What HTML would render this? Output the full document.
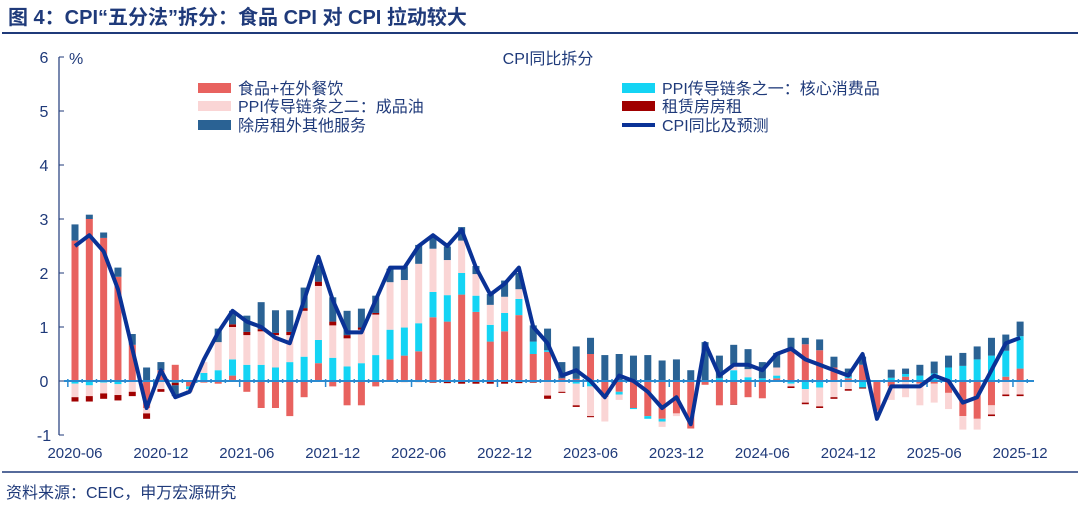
<!DOCTYPE html>
<html><head><meta charset="utf-8"><style>
body{margin:0;background:#fff;width:1080px;height:509px;overflow:hidden;font-family:"Liberation Sans","Noto Sans CJK SC",sans-serif;}
</style></head><body>
<svg id="chart" width="1080" height="509" xmlns="http://www.w3.org/2000/svg" font-family="Liberation Sans, Noto Sans CJK SC, sans-serif">
<text x="8" y="24" font-size="20" font-weight="bold" fill="#1F3A7A">图 4：CPI“五分法”拆分：食品 CPI 对 CPI 拉动较大</text>
<line x1="2" y1="33" x2="1078" y2="33" stroke="#1F3A7A" stroke-width="2"/>
<text x="548" y="64" font-size="16" fill="#1F3A7A" text-anchor="middle">CPI同比拆分</text>
<text x="69" y="64" font-size="16" fill="#1F3A7A">%</text>
<g id="plot"></g>
<g id="legend"></g>
<line x1="2" y1="472" x2="1078" y2="472" stroke="#1F3A7A" stroke-width="1.5"/>
<text x="6" y="498" font-size="16" fill="#1F3A7A">资料来源：CEIC，申万宏源研究</text>
</svg>
<script>
const food=[2.6,3.0,2.65,1.93,0.67,-0.5,0.2,0.3,-0.1,-0.03,-0.05,0.1,-0.2,-0.5,-0.5,-0.65,-0.3,0.33,-0.1,-0.45,-0.45,-0.1,0.4,0.47,0.55,1.18,1.1,1.6,1.28,0.73,0.92,1.22,0.5,0.54,0.05,0.04,0.5,-0.3,-0.2,-0.5,-0.65,-0.7,-0.6,-0.88,-0.07,-0.45,-0.43,-0.3,-0.32,0.05,0.55,0.68,0.57,0.25,0.05,0.3,-0.55,-0.1,0.08,-0.05,-0.05,-0.22,-0.65,-0.7,-0.45,0.08,0.23];
const core=[-0.05,-0.08,-0.03,-0.06,0,0,0,-0.03,-0.05,0.15,0.2,0.3,0.3,0.3,0.25,0.35,0.45,0.43,0.43,0.27,0.33,0.48,0.55,0.52,0.52,0.47,0.49,0.4,0.3,0.31,0.34,0.3,0.23,0.03,0,-0.05,-0.1,0,-0.05,-0.02,-0.05,-0.05,0,0,0,0.05,0.2,0.07,0.05,0.05,-0.05,-0.15,-0.12,0,0.03,-0.12,0,0.06,0.05,0.1,0.14,0.25,0.28,0.4,0.47,0.48,0.6];
const oil=[-0.25,-0.2,-0.2,-0.2,-0.2,-0.1,-0.15,0,-0.05,0.2,0.52,0.6,0.55,0.62,0.6,0.5,0.85,1.0,0.6,0.52,0.62,0.75,0.88,0.88,1.1,0.8,0.65,0.6,0.4,0.37,0.3,0.18,0,-0.27,-0.2,-0.4,-0.55,-0.45,-0.1,0,0,-0.1,-0.05,0,0,0,0.1,0.15,0,0.15,-0.05,-0.25,-0.35,-0.3,-0.15,0,-0.05,-0.25,-0.3,-0.4,-0.35,-0.3,-0.25,-0.2,-0.17,-0.25,-0.25];
const rent=[-0.08,-0.1,-0.1,-0.1,-0.08,-0.1,-0.05,-0.05,0,0,0,0.05,0.06,0.04,0.04,0.06,0.05,0.08,0.07,0.06,0.04,0.03,0,-0.02,-0.02,-0.03,-0.04,-0.05,-0.05,-0.05,-0.05,-0.04,-0.03,-0.06,-0.02,-0.03,-0.02,0,0,0,0,0,0,0,0,0,-0.01,0,0,0,-0.03,-0.03,-0.03,-0.03,-0.03,-0.02,0,0,0,0,0,0,0,0,-0.03,-0.03,-0.03];
const other=[0.3,0.08,0.1,0.17,0.2,0.25,0.15,-0.2,0,0,0.25,0.25,0.3,0.5,0.42,0.4,0.38,0.3,0.45,0.45,0.35,0.32,0.25,0.25,0.35,0.2,0.25,0.25,0.15,0.2,0.3,0.3,0.3,0.4,0.3,0.6,0.3,0.48,0.5,0.47,0.48,0.38,0.4,0.2,0.72,0.42,0.37,0.37,0.3,0.27,0.25,0.12,0.2,0.2,0.15,0.15,0,0.15,0.1,0.2,0.22,0.22,0.24,0.24,0.33,0.3,0.27];
const cpi=[2.5,2.7,2.4,1.7,0.6,-0.5,0.2,-0.3,-0.2,0.4,0.9,1.3,1.1,1.0,0.8,0.7,1.5,2.3,1.5,0.9,0.9,1.5,2.1,2.1,2.5,2.7,2.5,2.8,2.1,1.6,1.8,2.1,1.0,0.7,0.1,0.2,0.0,-0.3,0.1,0.0,-0.2,-0.5,-0.3,-0.8,0.7,0.1,0.3,0.3,0.2,0.5,0.6,0.4,0.3,0.2,0.1,0.5,-0.7,-0.1,-0.1,-0.1,0.1,0.0,-0.4,-0.3,0.2,0.7,0.8];
const yTicks=[-1,0,1,2,3,4,5,6];
const xLabels=["2020-06","2020-12","2021-06","2021-12","2022-06","2022-12","2023-06","2023-12","2024-06","2024-12","2025-06","2025-12"];
const x0=75,dx=14.32,y0=381,unit=54;
const X=i=>x0+i*dx, Y=v=>y0-v*unit;
const NS="http://www.w3.org/2000/svg";
const plot=document.getElementById('plot');
function mk(tag,attrs,parent){const e=document.createElementNS(NS,tag);for(const k in attrs)e.setAttribute(k,attrs[k]);(parent||plot).appendChild(e);return e;}
const series=[[food,'#E8625F','food'],[core,'#14D4F4','core-goods'],[oil,'#FAD5D5','refined-oil'],[rent,'#A00000','rent'],[other,'#2A6294','other-services']];
for(let i=0;i<cpi.length;i++){
  let pos=0,neg=0;
  for(const [arr,col,nm] of series){
    const v=arr[i]; if(!v) continue;
    let a,b; if(v>0){a=pos;b=pos+v;pos=b;}else{a=neg;b=neg+v;neg=b;}
    const r=mk('rect',{x:X(i)-3.5,y:Math.min(Y(a),Y(b)),width:7,height:Math.abs(Y(a)-Y(b)),fill:col});
    
    
  }
}
const ya=mk('line',{x1:59,y1:Y(6),x2:59,y2:Y(-1),stroke:'#1F3A7A','stroke-width':1.2});


yTicks.forEach(t=>{
  mk('line',{x1:59,y1:Y(t),x2:64,y2:Y(t),stroke:'#1F3A7A','stroke-width':1});
  const tx=mk('text',{x:44,y:Y(t)+6,'font-size':16,fill:'#1F3A7A','text-anchor':'middle'});
  tx.textContent=t;
  
  
});
const xa=mk('line',{x1:64,y1:y0,x2:1034,y2:y0,stroke:'#2A8AD0','stroke-width':2});


for(let i=0;i<=cpi.length;i++){const xx=X(i)-dx/2;mk('line',{x1:xx,y1:y0-2,x2:xx,y2:y0+(i%6===0?6:2),stroke:'#2A8AD0','stroke-width':1.5});}
xLabels.forEach((l,k)=>{
  const tx=mk('text',{x:X(k*6),y:458,'font-size':15,fill:'#1F3A7A','text-anchor':'middle'});
  tx.textContent=l;
  
  
});
const pl=mk('polyline',{points:cpi.map((v,i)=>X(i)+','+Y(v)).join(' '),fill:'none',stroke:'#0A3296','stroke-width':4,'stroke-linejoin':'round'});


const lg=document.getElementById('legend');
const items=[[198,88,'#E8625F','食品+在外餐饮','rect'],[198,106,'#FAD5D5','PPI传导链条之二：成品油','rect'],[198,125,'#2A6294','除房租外其他服务','rect'],[622,88,'#14D4F4','PPI传导链条之一：核心消费品','rect'],[622,106,'#A00000','租赁房房租','rect'],[622,125,'#0A3296','CPI同比及预测','line']];
items.forEach(([x,y,c,t,k])=>{
  const g=mk('g',{},lg);
  
  
  if(k==='rect')mk('rect',{x:x,y:y-5,width:33,height:10,fill:c},g);
  else mk('line',{x1:x,y1:y,x2:x+33,y2:y,stroke:c,'stroke-width':4},g);
  const tx=mk('text',{x:x+40,y:y+6,'font-size':16,fill:'#1F3A7A'},g);tx.textContent=t;
});
</script>
</body></html>
